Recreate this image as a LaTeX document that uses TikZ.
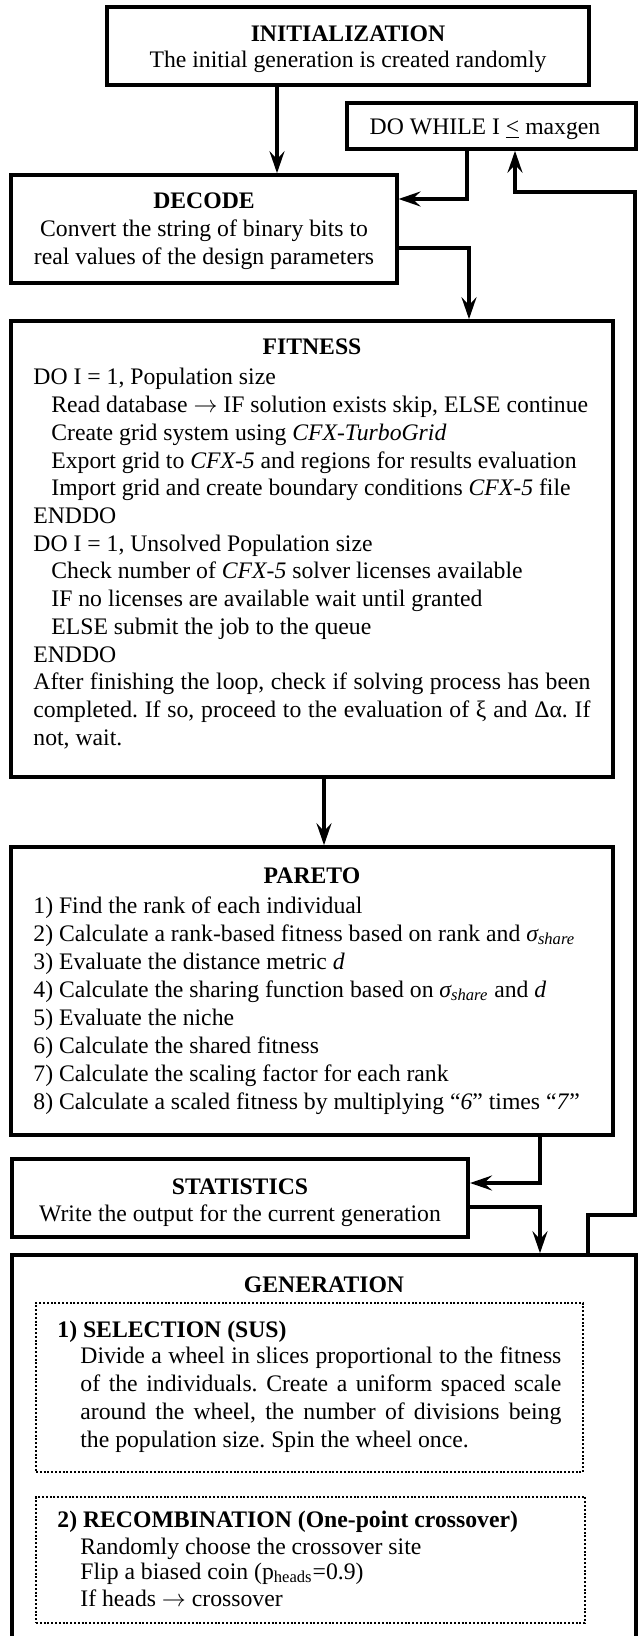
\documentclass[tikz,border=0pt]{standalone}
\usepackage{fontspec}
\setmainfont{Liberation Serif}
\usetikzlibrary{arrows.meta}
\newcommand{\body}{\fontsize{11.85pt}{13.85pt}\selectfont\frenchspacing}
\newcommand{\ind}{\hspace*{9pt}}
\newcommand{\sigshare}{\textit{σ\textsubscript{share}}}
\tikzset{
  >={Stealth[length=11pt,width=7.5pt,inset=4pt]},
  box/.style={draw,line width=1.8pt,inner sep=0pt},
  dotbox/.style={draw,line width=1.2pt,dash pattern=on 1pt off 0.9pt,inner sep=0pt},
  flow/.style={->,line width=1.6pt},
  ttl/.style={anchor=base,inner sep=0pt,font=\body\bfseries},
  ctr/.style={anchor=base,inner sep=0pt,font=\body},
  txt/.style={anchor=base west,inner sep=0pt,font=\body},
  hd/.style={anchor=base west,inner sep=0pt,font=\body\bfseries},
}
\begin{document}
\begin{tikzpicture}[x=0.5pt,y=-0.5pt]
  \clip (0,0) rectangle (638,1636);
  % boxes
  \node[box,minimum width=241pt,minimum height=39pt] (init) at (348,46) {};
  \node[box,minimum width=144.5pt,minimum height=23pt] (dowhile) at (491.5,126) {};
  \node[box,minimum width=192.75pt,minimum height=54pt] (decode) at (204,229) {};
  \node[box,minimum width=300.75pt,minimum height=228pt] (fitness) at (312,549) {};
  \node[box,minimum width=300.75pt,minimum height=144pt] (pareto) at (312,991) {};
  \node[box,minimum width=228.25pt,minimum height=39pt] (stats) at (240,1198) {};
  \node[box,minimum width=312.25pt,minimum height=222.5pt] (gen) at (324,1477.5) {};
  \node[dotbox,minimum width=273.5pt,minimum height=84.5pt] (sel) at (309.5,1387.5) {};
  \node[dotbox,minimum width=274.5pt,minimum height=63pt] (rec) at (310.5,1560) {};
  % texts
  \node[ttl] (initT) at (348,41.7) {INITIALIZATION};
  \node[ctr] (initL) at (348,68) {The initial generation is created randomly};
  \node[ctr] (dwT) at (485,135) {DO WHILE I \underline{<} maxgen};
  \node[ttl] (decT) at (204,208.3) {DECODE};
  \node[ctr] (decL1) at (204,236.7) {Convert the string of binary bits to};
  \node[ctr] (decL2) at (204,265) {real values of the design parameters};
  \node[ttl] (fitT) at (312,355) {FITNESS};
  \foreach \entry [count=\i from 0] in {
    {DO I = 1, Population size},
    {\ind Read database $\rightarrow$ IF solution exists skip, ELSE continue},
    {\ind Create grid system using \textit{CFX-TurboGrid}},
    {\ind Export grid to \textit{CFX-5} and regions for results evaluation},
    {\ind Import grid and create boundary conditions \textit{CFX-5} file},
    {ENDDO},
    {DO I = 1, Unsolved Population size},
    {\ind Check number of \textit{CFX-5} solver licenses available},
    {\ind IF no licenses are available wait until granted},
    {\ind ELSE submit the job to the queue},
    {ENDDO},
    {\makebox[278.5pt][s]{After finishing the loop, check if solving process has been}},
    {\makebox[278.5pt][s]{completed. If so, proceed to the evaluation of ξ and Δα. If}},
    {not, wait.}}
    \node[txt] (fit\i) at (33,{385+27.7*\i}) {\entry};
  \node[ttl] (parT) at (312,883) {PARETO};
  \foreach \entry [count=\i] in {
    {1) Find the rank of each individual},
    {2) Calculate a rank-based fitness based on rank and \sigshare},
    {3) Evaluate the distance metric \textit{d}},
    {4) Calculate the sharing function based on \sigshare{} and \textit{d}},
    {5) Evaluate the niche},
    {6) Calculate the shared fitness},
    {7) Calculate the scaling factor for each rank},
    {8) Calculate a scaled fitness by multiplying “\textit{6}” times “\textit{7}”}}
    \node[txt] (par\i) at (33,{913+28.1*(\i-1)}) {\entry};
  \node[ttl] (staT) at (240,1194) {STATISTICS};
  \node[ctr] (staL) at (240,1221) {Write the output for the current generation};
  \node[ttl] (genT) at (324,1292) {GENERATION};
  \node[hd] (selT) at (57,1337) {1) SELECTION (SUS)};
  \foreach \entry [count=\i from 0] in {
    {\makebox[240.5pt][s]{Divide a wheel in slices proportional to the fitness}},
    {\makebox[240.5pt][s]{of the individuals. Create a uniform spaced scale}},
    {\makebox[240.5pt][s]{around the wheel, the number of divisions being}},
    {the population size. Spin the wheel once.}}
    \node[txt] (sel\i) at (80,{1363+28*\i}) {\entry};
  \node[hd] (recT) at (57,1527) {2) RECOMBINATION (One-point crossover)};
  \node[txt] (rec1) at (80,1554) {Randomly choose the crossover site};
  \node[txt] (rec2) at (80,1579) {Flip a biased coin (p\textsubscript{heads}=0.9)};
  \node[txt] (rec3) at (80,1606) {If heads $\rightarrow$ crossover};
  % connectors
  \coordinate (xa) at (277,0);
  \coordinate (xb) at (467,0);
  \coordinate (xc) at (469,0);
  \coordinate (xd) at (324,0);
  \coordinate (xe) at (540,0);
  \coordinate (xf) at (588,0);
  \coordinate (xg) at (515,0);
  \draw[flow] (xa |- init.south) -- (xa |- decode.north);
  \draw[flow] (xb |- dowhile.south) |- ([yshift=15pt]decode.east);
  \draw[flow] ([yshift=-9.5pt]decode.east) -| (xc |- fitness.north);
  \draw[flow] (xd |- fitness.south) -- (xd |- pareto.north);
  \draw[flow] (xe |- pareto.south) |- ([yshift=7.5pt]stats.east);
  \draw[flow] ([yshift=-4.5pt]stats.east) -| (xe |- gen.north);
  \draw[flow] (xf |- gen.north) |- (635,1215) -- (635,192) -| (xg |- dowhile.south);
\end{tikzpicture}
\end{document}
